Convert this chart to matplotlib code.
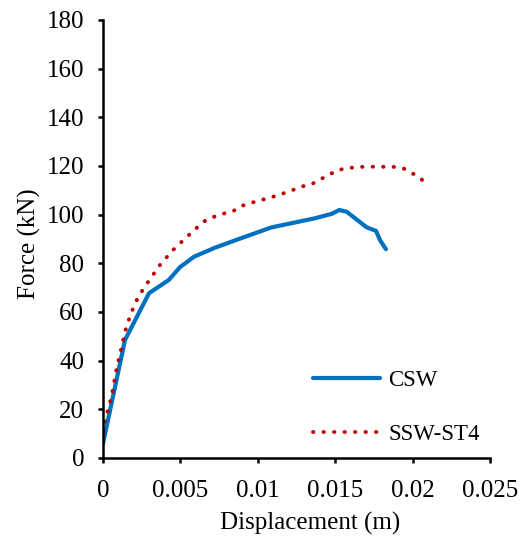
import matplotlib
matplotlib.use("Agg")
import matplotlib.pyplot as plt

# ─── Data ────────────────────────────────────────────────────────────────────

csw_disp = [0.0, 0.00142, 0.00297, 0.00426, 0.00497, 0.00588, 0.00723, 0.00874,
            0.01085, 0.01197, 0.01369, 0.01477, 0.01527, 0.01574, 0.01703,
            0.01764, 0.01789, 0.01828]
csw_force = [6.0, 48.5, 67.7, 73.2, 78.4, 82.7, 86.4, 89.9,
             94.7, 96.2, 98.5, 100.3, 101.9, 101.2, 94.8,
             93.3, 89.6, 85.8]

ssw_disp = [0.0, 0.00008, 0.00024, 0.00056, 0.00088, 0.00116, 0.00142, 0.00181,
            0.00228, 0.00297, 0.00368, 0.00448, 0.00534, 0.00627, 0.00674,
            0.00788, 0.00842, 0.00896, 0.01008, 0.01068, 0.01187, 0.01298,
            0.01359, 0.01466, 0.0152, 0.01639, 0.01762, 0.01882, 0.01944,
            0.01998, 0.02048, 0.02087]
ssw_force = [6.3, 14.3, 18.0, 25.5, 36.9, 44.4, 51.9, 59.5,
             66.3, 72.9, 79.3, 85.2, 90.4, 95.8, 98.2,
             100.6, 101.5, 103.6, 105.8, 106.7, 109.2, 111.8,
             112.9, 116.6, 118.4, 119.6, 119.7, 119.6, 118.9,
             117.0, 115.2, 112.5]

x_ticks = [0, 0.005, 0.01, 0.015, 0.02, 0.025]
x_labels = ["0", "0.005", "0.01", "0.015", "0.02", "0.025"]
y_ticks = list(range(0, 181, 20))

# ─── Style ───────────────────────────────────────────────────────────────────

plt.rcParams.update({
    "font.family": "Liberation Serif",
    "font.size": 18,
})

fig = plt.figure(figsize=(5.24, 5.39), dpi=100)
ax = fig.add_axes([0.1966, 0.1503, 0.7384, 0.8127])

ax.plot(csw_disp, csw_force, color="#0070C0", linewidth=3, label="CSW",
        solid_capstyle="round", solid_joinstyle="round")
ax.plot(ssw_disp, ssw_force, color="#C00000", linewidth=2.8, label="SSW-ST4",
        linestyle=(0, (0.1, 2.6)), dash_capstyle="round")

ax.set_xlim(0, 0.025)
ax.set_ylim(0, 180)
ax.set_xticks(x_ticks)
ax.set_xticklabels(x_labels)
ax.set_yticks(y_ticks)

for side in ("top", "right"):
    ax.spines[side].set_visible(False)
for side in ("left", "bottom"):
    ax.spines[side].set_linewidth(1.8)
ax.tick_params(direction="out", length=3.6, width=1.8, colors="black", labelsize=18)
ax.tick_params(axis="x", pad=12.5)
ax.tick_params(axis="y", pad=10)

ax.set_xlabel("Displacement (m)", fontsize=18)
ax.set_ylabel("Force (kN)", fontsize=18)
ax.xaxis.set_label_coords(0.534, -0.123)
ax.yaxis.set_label_coords(-0.16, 0.489)

ax.legend(loc="center left", bbox_to_anchor=(0.5973, 0.244),
          bbox_transform=fig.transFigure, frameon=False,
          borderpad=0, borderaxespad=0,
          handlelength=2.93, labelspacing=1.48, fontsize=16.5, handletextpad=0.35)

fig.savefig("out.png", dpi=100)
